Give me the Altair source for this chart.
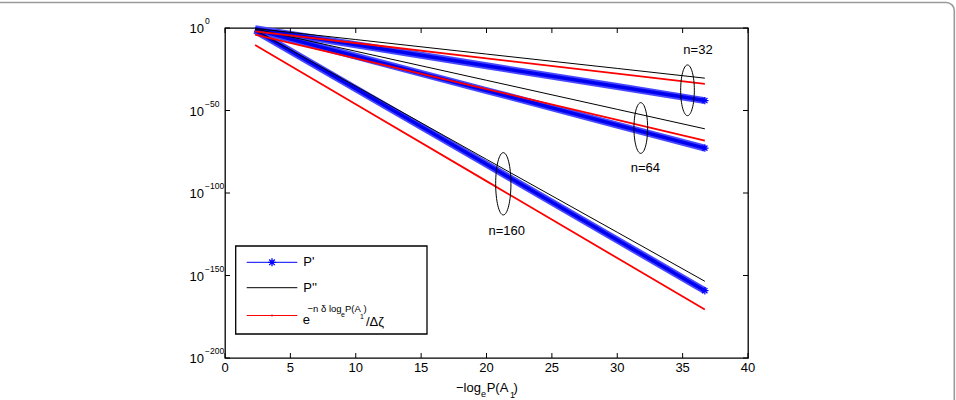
import altair as alt
import pandas as pd

FONT = "Liberation Sans"

# -log_e P(A1) positions at which the curves are tabulated
X_POS = [2.3, 10.0, 20.0, 30.0, 36.7]

# Curve values as decades below 10^0 (value = 10^-d)
P1_N32 = [0.5, 10.2, 22.9, 35.5, 44.0]
P1_N64 = [1.0, 17.1, 37.9, 58.8, 72.8]
P1_N160 = [1.5, 36.8, 82.6, 128.5, 159.2]

P2_N32 = [0.3, 7.0, 15.8, 24.5, 30.4]
P2_N64 = [0.6, 14.1, 31.7, 49.3, 61.1]
P2_N160 = [1.2, 35.3, 79.6, 123.8, 153.5]

B_N32 = [2.0, 9.1, 18.4, 27.7, 33.9]
B_N64 = [4.0, 18.4, 37.0, 55.7, 68.2]
B_N160 = [10.3, 46.2, 92.8, 139.4, 170.6]

X_TICKS = [0, 5, 10, 15, 20, 25, 30, 35, 40]
Y_TICK_EXP = [0, -50, -100, -150, -200]
Y_TICK_TXT = ["0", "\u221250", "\u2212100", "\u2212150", "\u2212200"]

rows = []
for kind, n, decs in [
    ("P1", 32, P1_N32), ("P1", 64, P1_N64), ("P1", 160, P1_N160),
    ("P2", 32, P2_N32), ("P2", 64, P2_N64), ("P2", 160, P2_N160),
    ("B", 32, B_N32), ("B", 64, B_N64), ("B", 160, B_N160),
]:
    for x, d in zip(X_POS, decs):
        rows.append({"x": x, "p": 10.0 ** (-d), "n": n, "kind": kind})
curves = pd.DataFrame(rows)

yticks = pd.DataFrame({"v": [10.0 ** e for e in Y_TICK_EXP], "exp": Y_TICK_TXT, "base": "10"})
xticks = pd.DataFrame({"t": X_TICKS, "lab": [str(t) for t in X_TICKS]})
one = pd.DataFrame({"a": [0]})

W, H = 523, 330
L, T = 225, 28

xs = alt.Scale(domain=[0, 40], nice=False, zero=False)
ys = alt.Scale(type="log", domain=[1e-200, 1], nice=False)

ASTERISK = "M0,-1L0,1M-1,0L1,0M-0.7,-0.7L0.7,0.7M-0.7,0.7L0.7,-0.7"


def ellipse_path(a):
    k = 0.5523
    return (f"M0,-1C{k*a:.4f},-1,{a},{-k},{a},0C{a},{k},{k*a:.4f},1,0,1"
            f"C{-k*a:.4f},1,{-a},{k},{-a},0C{-a},{-k},{-k*a:.4f},-1,0,-1Z")


def curve_layer(kind):
    return alt.Chart(curves).transform_filter(alt.datum.kind == kind)


enc = dict(x=alt.X("x:Q", scale=xs, axis=None),
           y=alt.Y("p:Q", scale=ys, axis=None),
           detail="n:N")

# P' drawn as a dense band of asterisks: pale outer band with a saturated core
blue_halo = curve_layer("P1").mark_line(color="#4848ff", strokeWidth=7).encode(**enc)
blue_core = curve_layer("P1").mark_line(color="#0000f0", strokeWidth=3.5).encode(**enc)
blue_star = curve_layer("P1").transform_filter(alt.datum.x == X_POS[-1]).mark_point(
    shape=ASTERISK, size=55, color="#0000ff", strokeWidth=1.2, filled=False, opacity=1
).encode(**enc)
black_line = curve_layer("P2").mark_line(color="black", strokeWidth=1).encode(**enc)
red_line = curve_layer("B").mark_line(color="#ff0000", strokeWidth=1.8).encode(**enc)

# inward ticks on all four sides
tick_style = dict(color="black", strokeWidth=1)
x_bottom = alt.Chart(xticks).mark_rule(**tick_style).encode(
    x=alt.X("t:Q", scale=xs, axis=None), y=alt.value(H), y2=alt.value(H - 5))
x_top = alt.Chart(xticks).mark_rule(**tick_style).encode(
    x=alt.X("t:Q", scale=xs, axis=None), y=alt.value(0), y2=alt.value(5))
y_left = alt.Chart(yticks).mark_rule(**tick_style).encode(
    y=alt.Y("v:Q", scale=ys, axis=None), x=alt.value(0), x2=alt.value(5))
y_right = alt.Chart(yticks).mark_rule(**tick_style).encode(
    y=alt.Y("v:Q", scale=ys, axis=None), x=alt.value(W), x2=alt.value(W - 5))

# tick labels
x_labels = alt.Chart(xticks).mark_text(align="center", baseline="middle", fontSize=13,
                                       font=FONT, color="black").encode(
    x=alt.X("t:Q", scale=xs, axis=None), y=alt.value(H + 10), text="lab:N")
y_base = alt.Chart(yticks).mark_text(align="right", baseline="middle", fontSize=13,
                                     font=FONT, color="black", dy=1).encode(
    y=alt.Y("v:Q", scale=ys, axis=None), x=alt.value(-21), text="base:N")
y_exp = alt.Chart(yticks).mark_text(align="left", baseline="middle", fontSize=8.5,
                                    font=FONT, color="black", dy=-7).encode(
    y=alt.Y("v:Q", scale=ys, axis=None), x=alt.value(-20), text="exp:N")


def txt(s, x, y, size, align="left"):
    return alt.Chart(one).mark_text(text=s, align=align, baseline="middle",
                                    fontSize=size, font=FONT, color="black").encode(
        x=alt.value(x - L), y=alt.value(y - T))


def ell(x, y, h, a):
    return alt.Chart(one).mark_point(shape=ellipse_path(a), size=h * h, filled=False,
                                     color="black", strokeWidth=1, opacity=1).encode(
        x=alt.value(x - L), y=alt.value(y - T))


annots = [
    ell(687.5, 90.3, 50.7, 0.27), ell(640.8, 128.0, 50.7, 0.27), ell(503.3, 183.8, 62.3, 0.245),
    txt("n=32", 698, 50, 13, "center"),
    txt("n=64", 645.3, 167.7, 13, "center"),
    txt("n=160", 506.7, 231, 13, "center"),
    # x-axis title: -log_e P(A_1)
    txt("\u2212log", 456, 388.3, 13),
    txt("e", 481, 394.3, 9),
    txt("P(A", 486.7, 388.3, 13),
    txt("1", 510, 394.5, 9),
    txt(")", 513.5, 388.3, 13),
]

# legend
lg_box = alt.Chart(one).mark_rect(fill="white", stroke="black", strokeWidth=1.3).encode(
    x=alt.value(235.7 - L), x2=alt.value(427 - L), y=alt.value(246 - T), y2=alt.value(334 - T))


def lg_line(y, color):
    return alt.Chart(one).mark_rule(color=color, strokeWidth=1).encode(
        x=alt.value(246.7 - L), x2=alt.value(297.3 - L), y=alt.value(y - T))


legend = [
    lg_box,
    lg_line(262.3, "#0000ff"),
    alt.Chart(one).mark_point(shape=ASTERISK, size=64, color="#0000ff", filled=False,
                              strokeWidth=1.3, opacity=1).encode(
        x=alt.value(272 - L), y=alt.value(262.3 - T)),
    lg_line(287.7, "black"),
    lg_line(315.5, "#ff0000"),
    alt.Chart(one).mark_point(shape="circle", size=4, color="#ff0000", filled=True,
                              opacity=1).encode(x=alt.value(272 - L), y=alt.value(315.5 - T)),
    txt("P'", 303.3, 262.3, 13),
    txt("P''", 303.3, 287.7, 13),
    txt("e", 302.7, 320, 13),
    txt("\u2212n \u03b4 log", 307.5, 308.8, 9.5),
    txt("e", 341, 314.5, 7),
    txt("P(A", 345, 308.8, 9.5),
    txt("1", 360, 317.3, 7),
    txt(")", 363.5, 308.8, 9.5),
    txt("/\u0394\u03b6", 366, 321.7, 13),
]

border = alt.Chart(one).mark_rect(filled=False, stroke="#9a9a9a", strokeWidth=1.6,
                                  cornerRadius=8).encode(
    x=alt.value(-235), x2=alt.value(729.3), y=alt.value(-25.5), y2=alt.value(390))

chart = alt.layer(
    border, blue_halo, blue_core, blue_star, black_line, red_line,
    x_bottom, x_top, y_left, y_right, x_labels, y_base, y_exp,
    *annots, *legend,
).properties(
    width=W, height=H,
    autosize=alt.AutoSizeParams(type="none"),
    padding={"left": L, "top": T, "right": 956 - L - W, "bottom": 400 - T - H},
    background="white",
).configure_view(stroke="black", strokeWidth=1.3)

chart.save("out.html", embed_options={"renderer": "svg", "actions": False})
